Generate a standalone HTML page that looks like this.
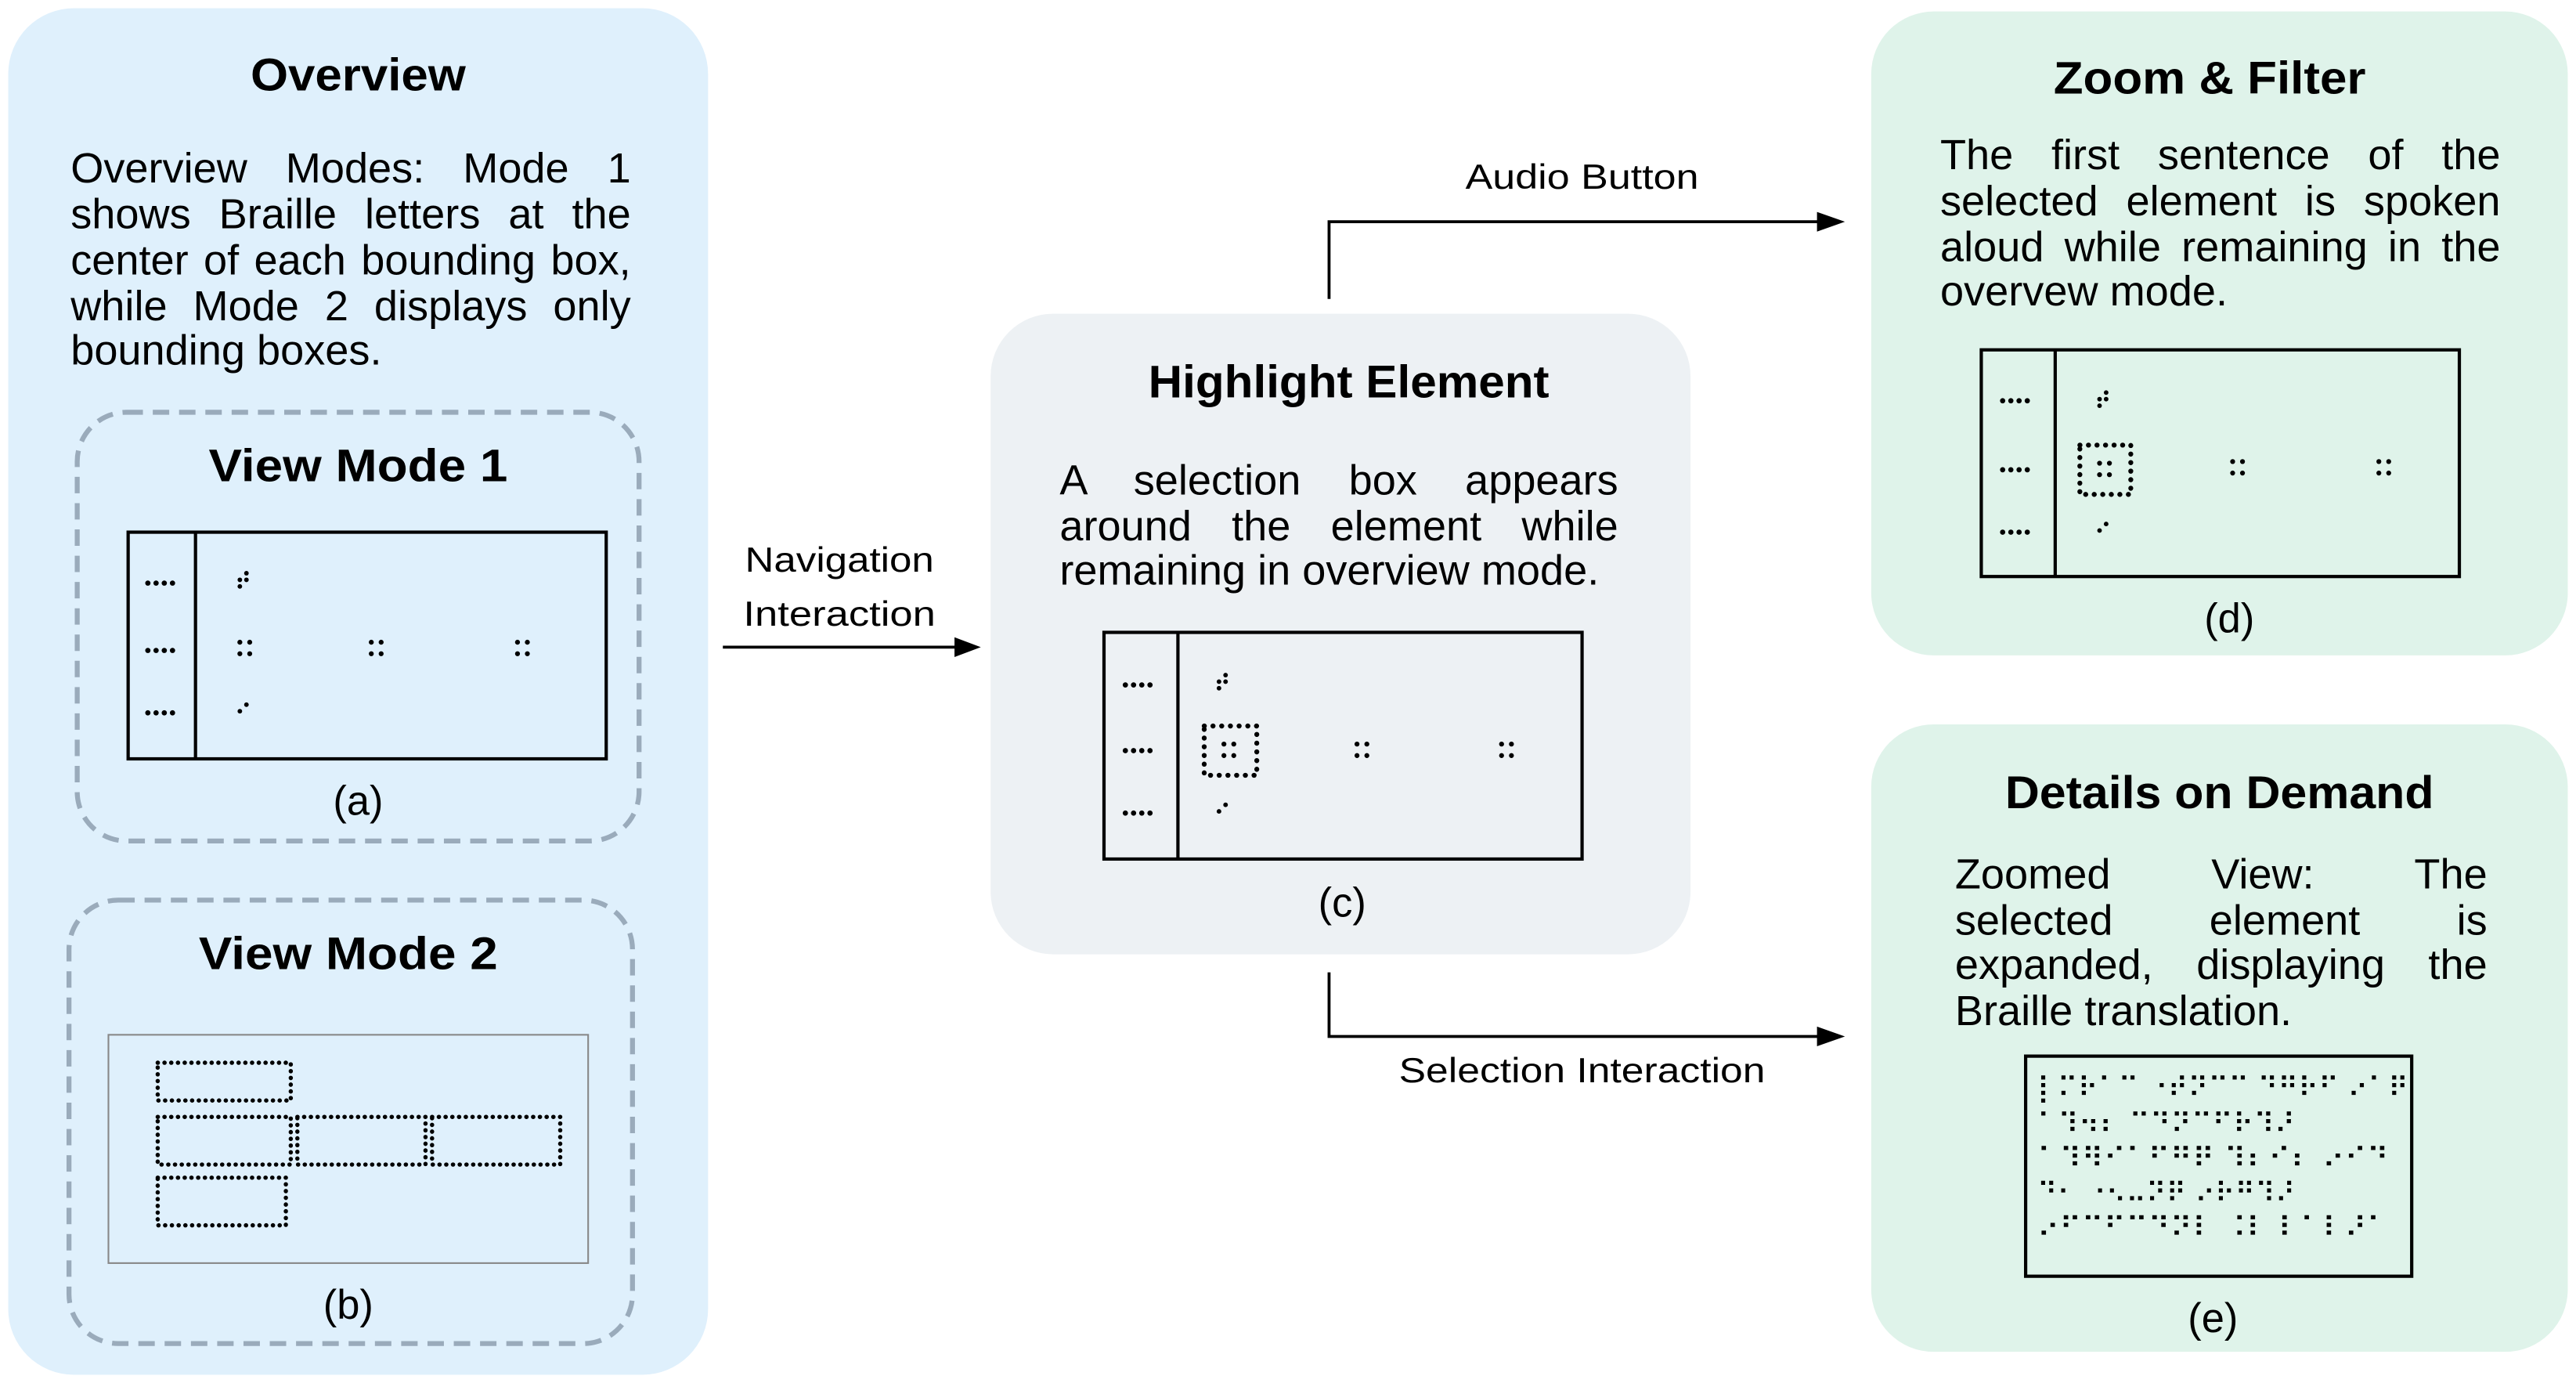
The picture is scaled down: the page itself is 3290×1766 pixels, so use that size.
<!DOCTYPE html>
<html><head><meta charset="utf-8"><style>
html,body{margin:0;padding:0;background:#fff;overflow:hidden;}
#w{position:absolute;left:0;top:0;width:1568px;height:842px;transform:scale(2.09821,2.09739);transform-origin:0 0;}
svg{position:absolute;left:0;top:0;}
.t{font-family:"Liberation Sans",sans-serif;font-weight:bold;font-size:28px;fill:#000;}
.l{font-family:"Liberation Sans",sans-serif;font-size:21px;fill:#000;}
.p{font-family:"Liberation Sans",sans-serif;font-size:25px;fill:#000;}
.br{font-family:"DejaVu Sans",sans-serif;font-size:17px;fill:#000;}
.j{position:absolute;font-family:"Liberation Sans",sans-serif;font-size:25.8px;line-height:28px;height:28px;white-space:nowrap;text-align:justify;text-align-last:justify;color:#000;}
.n{text-align:left;text-align-last:left;}
</style></head><body>
<div id="w">
<svg width="1568" height="842" viewBox="0 0 1568 842" xmlns="http://www.w3.org/2000/svg">
<defs>
<g id="four"><circle cx="0" cy="0" r="1.6"/><circle cx="5" cy="0" r="1.6"/><circle cx="10" cy="0" r="1.6"/><circle cx="15" cy="0" r="1.6"/></g>
<g id="sq"><circle cx="0" cy="0" r="1.5"/><circle cx="6" cy="0" r="1.5"/><circle cx="0" cy="7" r="1.5"/><circle cx="6" cy="7" r="1.5"/></g>
<g id="top"><circle cx="4" cy="-5" r="1.4"/><circle cx="0" cy="-1" r="1.4"/><circle cx="4" cy="-1" r="1.4"/><circle cx="0" cy="3" r="1.4"/></g>
<g id="bot"><circle cx="4" cy="-3" r="1.4"/><circle cx="0" cy="1" r="1.4"/></g>
</defs>

<rect x="5" y="5" width="426" height="832" rx="40" fill="#dff0fc"/>
<text class="t" x="218" y="55" text-anchor="middle" textLength="131" lengthAdjust="spacingAndGlyphs">Overview</text>

<rect x="47" y="251" width="342" height="261" rx="30" fill="none" stroke="#9aabbb" stroke-width="3" stroke-dasharray="10,6"/>
<text class="t" x="218" y="293" text-anchor="middle" textLength="182" lengthAdjust="spacingAndGlyphs">View Mode 1</text>
<rect x="78" y="324" width="291" height="138" fill="none" stroke="#000" stroke-width="2"/>
<line x1="119" y1="324" x2="119" y2="462" stroke="#000" stroke-width="2"/>
<use href="#four" x="90" y="355"/><use href="#four" x="90" y="396"/><use href="#four" x="90" y="434"/>
<use href="#top" x="146" y="354"/>
<use href="#sq" x="146" y="391"/><use href="#sq" x="226" y="391"/><use href="#sq" x="315" y="391"/>
<use href="#bot" x="146" y="432"/>
<text class="p" x="218" y="496" text-anchor="middle">(a)</text>

<rect x="42" y="548" width="343" height="270" rx="30" fill="none" stroke="#9aabbb" stroke-width="3" stroke-dasharray="10,6"/>
<text class="t" x="212" y="590" text-anchor="middle" textLength="182" lengthAdjust="spacingAndGlyphs">View Mode 2</text>
<rect x="66" y="630" width="292" height="139" fill="none" stroke="#888" stroke-width="1"/>
<g fill="none" stroke="#000" stroke-width="2.6" stroke-dasharray="0.1,4" stroke-linecap="round">
<rect x="96" y="647" width="81" height="23"/>
<rect x="96" y="680" width="81" height="29"/>
<rect x="181" y="680" width="78" height="29"/>
<rect x="263" y="680" width="78" height="29"/>
<rect x="96" y="717" width="78" height="29"/>
</g>
<text class="p" x="212" y="803" text-anchor="middle">(b)</text>

<text class="l" x="511" y="348" text-anchor="middle" textLength="115" lengthAdjust="spacingAndGlyphs">Navigation</text>
<text class="l" x="511" y="381" text-anchor="middle" textLength="117" lengthAdjust="spacingAndGlyphs">Interaction</text>
<line x1="440" y1="394" x2="584" y2="394" stroke="#000" stroke-width="1.8"/>
<polygon points="597,394 581,388 581,400" fill="#000"/>

<rect x="603" y="191" width="426" height="390" rx="38" fill="#edf1f4"/>
<text class="t" x="821" y="242" text-anchor="middle" textLength="244" lengthAdjust="spacingAndGlyphs">Highlight Element</text>
<rect x="672" y="385" width="291" height="138" fill="none" stroke="#000" stroke-width="2"/>
<line x1="717" y1="385" x2="717" y2="523" stroke="#000" stroke-width="2"/>
<use href="#four" x="685" y="417"/><use href="#four" x="685" y="457"/><use href="#four" x="685" y="495"/>
<use href="#top" x="742" y="416"/>
<rect x="733" y="442" width="32" height="30" fill="none" stroke="#000" stroke-width="3" stroke-dasharray="0.1,5.2" stroke-linecap="round"/>
<use href="#sq" x="745" y="453"/><use href="#sq" x="826" y="453"/><use href="#sq" x="914" y="453"/>
<use href="#bot" x="742" y="493"/>
<text class="p" x="817" y="558" text-anchor="middle">(c)</text>

<text class="l" x="963" y="115" text-anchor="middle" textLength="142" lengthAdjust="spacingAndGlyphs">Audio Button</text>
<polyline points="809,182 809,135 1108,135" fill="none" stroke="#000" stroke-width="1.8"/>
<polygon points="1123,135 1106,129 1106,141" fill="#000"/>

<polyline points="809,592 809,631 1108,631" fill="none" stroke="#000" stroke-width="1.8"/>
<polygon points="1123,631 1106,625 1106,637" fill="#000"/>
<text class="l" x="963" y="659" text-anchor="middle" textLength="223" lengthAdjust="spacingAndGlyphs">Selection Interaction</text>

<rect x="1139" y="7" width="424" height="392" rx="38" fill="#dff3ea"/>
<text class="t" x="1345" y="57" text-anchor="middle" textLength="190" lengthAdjust="spacingAndGlyphs">Zoom &amp; Filter</text>
<rect x="1206" y="213" width="291" height="138" fill="none" stroke="#000" stroke-width="2"/>
<line x1="1251" y1="213" x2="1251" y2="351" stroke="#000" stroke-width="2"/>
<use href="#four" x="1219" y="244"/><use href="#four" x="1219" y="286"/><use href="#four" x="1219" y="324"/>
<use href="#top" x="1278" y="244"/>
<rect x="1266" y="271" width="31" height="30" fill="none" stroke="#000" stroke-width="3" stroke-dasharray="0.1,5.1" stroke-linecap="round"/>
<use href="#sq" x="1278" y="282"/><use href="#sq" x="1359" y="281"/><use href="#sq" x="1448" y="281"/>
<use href="#bot" x="1278" y="322"/>
<text class="p" x="1357" y="385" text-anchor="middle">(d)</text>

<rect x="1139" y="441" width="424" height="382" rx="38" fill="#dff3ea"/>
<text class="t" x="1351" y="492" text-anchor="middle" textLength="261" lengthAdjust="spacingAndGlyphs">Details on Demand</text>
<rect x="1233" y="643" width="235" height="134" fill="none" stroke="#000" stroke-width="2"/>
<text class="br" x="1240" y="668" textLength="226" lengthAdjust="spacingAndGlyphs">⡇⠍⠗⠁⠉ ⠐⠞⠝⠉⠉ ⠙⠛⠗⠋ ⠔⠁⠟</text>
<text class="br" x="1240" y="690" textLength="157" lengthAdjust="spacingAndGlyphs">⠁⠹⠲⠆ ⠉⠙⠝⠉⠋⠗⠹⠜</text>
<text class="br" x="1240" y="711" textLength="214" lengthAdjust="spacingAndGlyphs">⠁⠹⠻⠊⠁⠋⠛⠟ ⠹⠆⠊⠆ ⠔⠊⠙</text>
<text class="br" x="1240" y="732" textLength="157" lengthAdjust="spacingAndGlyphs">⠙⠂ ⠐⠢⠤⠝⠟ ⠔⠗⠛⠹⠜</text>
<text class="br" x="1240" y="753" textLength="214" lengthAdjust="spacingAndGlyphs">⠔⠋⠉⠋⠉⠙⠝⠇ ⠨⠇ ⠇⠁⠇⠜⠁</text>
<text class="p" x="1347" y="811" text-anchor="middle">(e)</text>
</svg>

<div class="j" style="left:43px;top:89px;width:341px">Overview Modes: Mode 1</div>
<div class="j" style="left:43px;top:117px;width:341px">shows Braille letters at the</div>
<div class="j" style="left:43px;top:145px;width:341px">center of each bounding box,</div>
<div class="j" style="left:43px;top:173px;width:341px">while Mode 2 displays only</div>
<div class="j n" style="left:43px;top:200px;width:341px">bounding boxes.</div>

<div class="j" style="left:645px;top:279px;width:340px">A selection box appears</div>
<div class="j" style="left:645px;top:307px;width:340px">around the element while</div>
<div class="j n" style="left:645px;top:334px;width:345px">remaining in overview mode.</div>

<div class="j" style="left:1181px;top:81px;width:341px">The first sentence of the</div>
<div class="j" style="left:1181px;top:109px;width:341px">selected element is spoken</div>
<div class="j" style="left:1181px;top:137px;width:341px">aloud while remaining in the</div>
<div class="j n" style="left:1181px;top:164px;width:341px">overvew mode.</div>

<div class="j" style="left:1190px;top:519px;width:324px">Zoomed View: The</div>
<div class="j" style="left:1190px;top:547px;width:324px">selected element is</div>
<div class="j" style="left:1190px;top:574px;width:324px">expanded, displaying the</div>
<div class="j n" style="left:1190px;top:602px;width:324px">Braille translation.</div>
</div>
</body></html>
